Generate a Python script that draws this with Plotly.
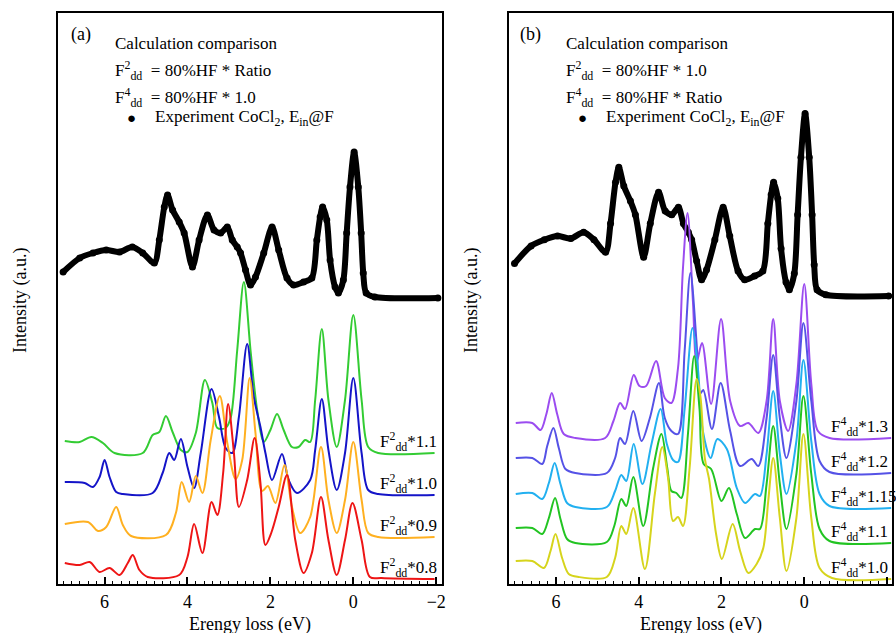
import plotly.graph_objects as go

# ---------------- data (energy loss in eV, intensity in arbitrary units) ----------------
exp_x = [7.0, 6.6, 6.28, 5.96, 5.64, 5.33, 5.08, 4.80, 4.68, 4.56, 4.48, 4.36, 4.20, 4.08, 3.88,
         3.72, 3.52, 3.36, 3.20, 3.04, 2.92, 2.80, 2.72, 2.60, 2.48, 2.36, 2.16, 1.96, 1.80, 1.60,
         1.44, 1.20, 1.00, 0.88, 0.80, 0.74, 0.64, 0.56, 0.44, 0.36, 0.24, 0.16, 0.08, -0.02, -0.12,
         -0.19, -0.24, -0.31, -0.52, -2.04]
exp_y = [312, 326, 331, 334, 332, 337, 331, 321, 344, 377, 389, 374, 362, 351, 317,
         344, 369, 354, 351, 357, 344, 337, 331, 314, 299, 307, 331, 357, 334, 306,
         299, 302, 306, 344, 367, 377, 364, 324, 297, 291, 304, 351, 397, 432, 397,
         351, 311, 291, 287, 286]
exp_base_a, exp_base_b, exp_scale_b = 286, 288, 1.25

# panel (a): F2dd ratio series
a11_x = [6.96, 6.6, 6.32, 6.04, 5.76, 5.08, 4.84, 4.68, 4.52, 4.36, 4.16, 4.0, 3.80, 3.58, 3.40, 3.28,
         3.08, 2.96, 2.80, 2.64, 2.48, 2.32, 2.16, 2.0, 1.84, 1.68, 1.48, 1.32, 1.16, 1.04, 0.92, 0.76,
         0.60, 0.40, 0.20, 0.0, -0.2, -0.36, -0.6, -1.96]
a11_y = [143, 142, 147, 141, 131, 131, 149, 152, 168, 152, 134, 132, 151, 204, 181, 156,
         156, 166, 234, 302, 234, 174, 142, 154, 170, 154, 137, 137, 144, 142, 184, 255,
         184, 137, 184, 269, 184, 137, 131, 131]
a10_x = [6.96, 6.48, 6.28, 6.12, 6.0, 5.88, 5.72, 5.56, 4.84, 4.60, 4.44, 4.32, 4.16, 4.0, 3.84, 3.68,
         3.42, 3.24, 3.08, 2.92, 2.76, 2.56, 2.40, 2.24, 2.12, 1.96, 1.72, 1.56, 1.36, 1.04, 0.92, 0.76,
         0.60, 0.40, 0.20, 0.0, -0.20, -0.36, -0.6, -1.96]
a10_y = [102, 101, 97, 107, 124, 107, 92, 90, 91, 111, 131, 124, 145, 117, 96, 131,
         195, 167, 136, 131, 167, 240, 187, 157, 131, 104, 130, 104, 91, 104, 134, 185,
         134, 94, 131, 206, 131, 94, 90, 89]
a09_x = [6.96, 6.40, 6.16, 5.96, 5.72, 5.56, 5.36, 4.52, 4.28, 4.14, 3.96, 3.80, 3.64, 3.44, 3.22, 3.04,
         2.84, 2.68, 2.50, 2.36, 2.20, 2.06, 1.88, 1.66, 1.48, 1.28, 1.04, 0.78, 0.60, 0.40, 0.20, 0.0,
         -0.2, -0.36, -0.6, -1.96]
a09_y = [60, 62, 53, 57, 77, 59, 48, 49, 71, 102, 82, 108, 91, 144, 188, 141,
         105, 124, 206, 151, 93, 98, 81, 119, 77, 51, 67, 137, 84, 51, 84, 142,
         84, 51, 47, 47]
a08_x = [6.96, 6.6, 6.36, 6.12, 5.88, 5.64, 5.44, 5.32, 5.16, 4.96, 4.20, 4.0, 3.84, 3.64, 3.42, 3.28,
         3.14, 3.02, 2.88, 2.76, 2.56, 2.38, 2.24, 2.12, 1.98, 1.80, 1.60, 1.40, 1.20, 1.00, 0.78, 0.60,
         0.40, 0.20, 0.02, -0.2, -0.4, -0.68, -1.96]
a08_y = [21, 19, 22, 12, 16, 9, 21, 29, 14, 7, 9, 27, 60, 31, 82, 69,
         111, 180, 131, 77, 104, 146, 101, 39, 51, 77, 109, 44, 11, 31, 87, 44,
         9, 44, 81, 44, 7, 6, 5]

# panel (b): F4dd ratio series
b13_x = [6.97, 6.57, 6.37, 6.23, 6.10, 5.97, 5.81, 5.53, 4.81, 4.61, 4.45, 4.33, 4.12, 3.98, 3.82, 3.58,
         3.37, 3.21, 3.05, 2.93, 2.82, 2.69, 2.60, 2.47, 2.25, 2.01, 1.79, 1.55, 1.35, 1.11, 0.91, 0.75,
         0.59, 0.39, 0.19, 0.0, -0.17, -0.33, -0.61, -2.1]
b13_y = [161, 161, 154, 170, 191, 170, 150, 146, 146, 163, 181, 175, 209, 198, 198, 223,
         186, 181, 216, 316, 371, 283, 222, 241, 180, 265, 183, 158, 161, 151, 183, 265,
         183, 153, 200, 300, 200, 153, 146, 146]
b12_x = [6.97, 6.57, 6.33, 6.21, 6.06, 5.93, 5.77, 5.53, 4.77, 4.57, 4.45, 4.33, 4.13, 3.93, 3.73, 3.51,
         3.37, 3.21, 3.05, 2.89, 2.75, 2.60, 2.52, 2.44, 2.23, 2.02, 1.79, 1.55, 1.27, 1.11, 0.91, 0.75,
         0.59, 0.43, 0.19, 0.02, -0.17, -0.37, -0.61, -2.1]
b12_y = [126, 126, 120, 138, 156, 136, 115, 111, 111, 126, 146, 140, 173, 143, 166, 201,
         166, 153, 150, 233, 311, 240, 190, 194, 155, 201, 153, 118, 125, 118, 166, 229,
         166, 126, 183, 261, 183, 123, 112, 111]
b115_x = [6.97, 6.57, 6.33, 6.17, 6.03, 5.89, 5.73, 5.53, 4.77, 4.57, 4.42, 4.30, 4.12, 3.91, 3.69, 3.47,
          3.32, 3.17, 3.05, 2.89, 2.70, 2.57, 2.45, 2.26, 2.10, 1.87, 1.63, 1.43, 1.19, 1.07, 0.91, 0.75,
          0.59, 0.43, 0.19, 0.02, -0.17, -0.37, -0.61, -2.1]
b115_y = [90, 91, 85, 101, 121, 100, 81, 77, 77, 93, 109, 103, 140, 100, 140, 175,
          140, 124, 122, 175, 256, 216, 153, 126, 145, 135, 96, 81, 90, 88, 130, 193,
          130, 90, 143, 224, 143, 90, 78, 76]
b11_x = [6.97, 6.57, 6.33, 6.17, 6.02, 5.89, 5.73, 5.53, 4.77, 4.59, 4.42, 4.30, 4.13, 3.89, 3.65, 3.45,
         3.31, 3.21, 3.09, 2.97, 2.81, 2.66, 2.53, 2.43, 2.25, 2.0, 1.82, 1.63, 1.43, 1.19, 1.07, 0.91,
         0.75, 0.59, 0.43, 0.19, 0.02, -0.17, -0.37, -0.61, -2.1]
b11_y = [56, 56, 50, 66, 86, 65, 45, 41, 42, 58, 85, 78, 107, 58, 116, 150,
         116, 93, 91, 86, 150, 228, 175, 120, 115, 83, 96, 70, 46, 55, 55, 100,
         158, 100, 55, 110, 188, 110, 55, 43, 41]
b10_x = [6.97, 6.57, 6.29, 6.13, 6.01, 5.85, 5.69, 5.45, 4.77, 4.57, 4.42, 4.30, 4.13, 3.85, 3.61, 3.43,
         3.29, 3.17, 3.05, 2.93, 2.77, 2.60, 2.51, 2.40, 2.30, 2.13, 1.99, 1.73, 1.55, 1.35, 1.15, 0.99,
         0.87, 0.75, 0.59, 0.43, 0.19, 0.02, -0.17, -0.37, -0.67, -2.1]
b10_y = [23, 23, 16, 33, 50, 26, 10, 7, 7, 26, 58, 50, 76, 15, 90, 137,
         106, 63, 67, 58, 116, 205, 188, 125, 105, 50, 25, 60, 33, 11, 20, 36,
         83, 126, 66, 13, 66, 150, 66, 16, 6, 5]

series_a = [("1.1", a11_x, a11_y, "#33cc33"), ("1.0", a10_x, a10_y, "#1414c8"),
            ("0.9", a09_x, a09_y, "#ffb020"), ("0.8", a08_x, a08_y, "#ee1515")]
series_b = [("1.3", b13_x, b13_y, "#9b4cf0"), ("1.2", b12_x, b12_y, "#5552e6"),
            ("1.15", b115_x, b115_y, "#22b0f0"), ("1.1", b11_x, b11_y, "#22c422"),
            ("1.0", b10_x, b10_y, "#d6d41c")]
label_x = -0.6
x_ticks = [6, 4, 2, 0, -2]

# ---------------- figure ----------------
W, H = 896, 633
TOP, BOT = 13, 584
FONT = "Liberation Serif, Times New Roman, DejaVu Serif, serif"

fig = go.Figure()

exp_b = [(v - exp_base_a) * exp_scale_b + exp_base_b for v in exp_y]
for xa, ya, yv in (("x", "y", exp_y), ("x2", "y2", exp_b)):
    fig.add_trace(go.Scatter(x=exp_x, y=yv, xaxis=xa, yaxis=ya, mode="lines+markers",
                             line=dict(color="black", width=6, shape="spline", smoothing=0.8),
                             marker=dict(color="black", size=7), showlegend=False))

annotations = []
for (name, xs, ys, col), sup, xa, ya in [(s, "2", "x", "y") for s in series_a] + \
                                         [(s, "4", "x2", "y2") for s in series_b]:
    fig.add_trace(go.Scatter(x=xs, y=ys, xaxis=xa, yaxis=ya, mode="lines",
                             line=dict(color=col, width=2, shape="spline", smoothing=0.9),
                             showlegend=False))
    annotations.append(dict(x=label_x, y=ys[-1] + 12, xref=xa, yref=ya, xanchor="left", yanchor="middle",
                            text=f"F<sup>{sup}</sup><sub>dd</sub>*{name}", showarrow=False,
                            font=dict(family=FONT, size=17, color="black")))


def px(xp):
    return xp / W


def py(yp):
    return (BOT - yp) / (BOT - TOP)


def txt(x, y, t, size=16, xanchor="left", angle=0):
    annotations.append(dict(x=px(x), y=py(y), xref="paper", yref="paper", text=t, showarrow=False,
                            xanchor=xanchor, yanchor="middle", textangle=angle,
                            font=dict(family=FONT, size=size, color="black")))


for off, lab, f2, f4 in [(0, "(a)", "Ratio", "1.0"), (453, "(b)", "1.0", "Ratio")]:
    txt(69 + off - (2 if off else 0), 34, lab, 18)
    txt(114 + off, 43, "Calculation comparison", 17)
    txt(114 + off, 70, f"F<sup>2</sup><sub>dd</sub>  = 80%HF * {f2}", 17)
    txt(114 + off, 97, f"F<sup>4</sup><sub>dd</sub>  = 80%HF * {f4}", 17)
    txt(132 + off, 118, "●", 15, "center")
    txt(154 + off, 118, "Experiment CoCl<sub>2</sub>, E<sub>in</sub>@F", 17)
    txt(20 + off, 300, "Intensity (a.u.)", 18, "center", -90)
    txt(251 + off, 624, "Erengy loss (eV)", 18, "center")

axis_common = dict(showline=True, linecolor="black", linewidth=2, mirror=True, showgrid=False,
                   zeroline=False)
xcommon = dict(axis_common, tickvals=x_ticks, ticks="inside", ticklen=7, tickwidth=1.5, tickcolor="black",
               ticklabelstandoff=0,
               minor=dict(dtick=0.2, tick0=0, ticks="inside", ticklen=3.5, tickwidth=1, tickcolor="black"),
               tickfont=dict(family=FONT, size=18, color="black"))
ycommon = dict(axis_common, showticklabels=False, ticks="", range=[0, BOT - TOP])

fig.update_layout(
    width=W, height=H, margin=dict(l=0, r=0, t=TOP, b=H - BOT),
    paper_bgcolor="white", plot_bgcolor="white",
    font=dict(family=FONT),
    xaxis=dict(xcommon, domain=[58 / W, 444 / W], range=[7.13, -2.14], anchor="y"),
    yaxis=dict(ycommon, anchor="x", domain=[0, 1]),
    xaxis2=dict(xcommon, domain=[511 / W, 1.0], range=[7.14, -2.12], anchor="y2"),
    yaxis2=dict(ycommon, anchor="x2", domain=[0, 1]),
    annotations=annotations,
    showlegend=False,
)

fig.write_html("out.html")
